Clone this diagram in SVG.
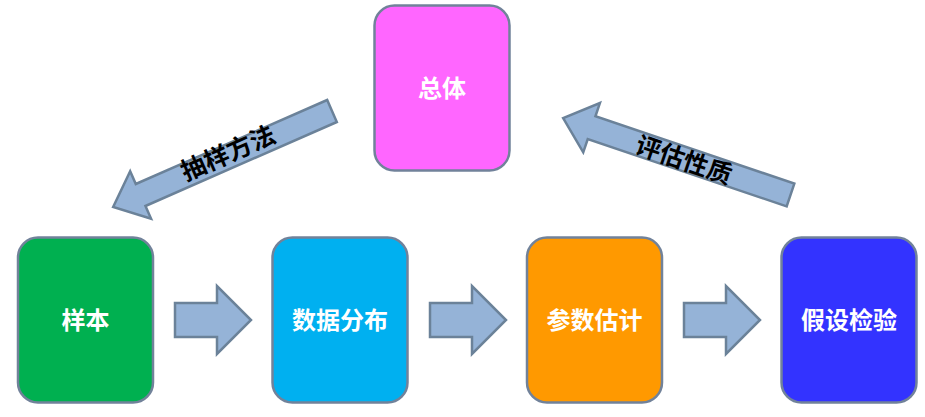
<svg xmlns="http://www.w3.org/2000/svg" width="925" height="417" viewBox="0 0 925 417">
<style>
.box{stroke:#71829A;stroke-width:2.5}
.lbl{font-family:"Liberation Sans","Noto Sans CJK SC",sans-serif;font-size:24px;font-weight:bold;fill:#FFFFFF;text-anchor:middle;dominant-baseline:central}
.arr{fill:#95B3D7;stroke:#6B8299;stroke-width:2.5;stroke-linejoin:miter}
.alb{font-family:"Liberation Sans","Noto Sans CJK SC",sans-serif;font-size:25px;font-weight:bold;fill:#000000;text-anchor:middle;dominant-baseline:central}
</style>
<rect width="925" height="417" fill="#FFFFFF"/>
<g id="zongti"><rect class="box" x="374.5" y="5.5" width="135" height="165" rx="20" fill="#FF66FF"/><text class="lbl" x="442" y="88">总体</text></g>
<g id="yangben"><rect class="box" x="18" y="237.5" width="135" height="165" rx="20" fill="#00B050"/><text class="lbl" x="85.5" y="320">样本</text></g>
<g id="shujufenbu"><rect class="box" x="272.5" y="237.5" width="135" height="165" rx="20" fill="#00B0F0"/><text class="lbl" x="340" y="320">数据分布</text></g>
<g id="canshuguji"><rect class="box" x="527" y="237.5" width="135" height="165" rx="20" fill="#FF9900"/><text class="lbl" x="594.5" y="320">参数估计</text></g>
<g id="jiashejianyan"><rect class="box" x="781.5" y="237.5" width="135" height="165" rx="20" fill="#3333FF"/><text class="lbl" x="849" y="320">假设检验</text></g>
<g id="connectors">
<path class="arr" d="M175,303 H217 V286 L251,320 L217,354 V337 H175 Z"/>
<path class="arr" d="M430,303 H472 V286 L506,320 L472,354 V337 H430 Z"/>
<path class="arr" d="M684,303 H726 V286 L760,320 L726,354 V337 H684 Z"/>
<g transform="translate(332,111) rotate(156.3)">
<path class="arr" d="M0,-12 H209 V-26 L239,0 L209,26 V12 H0 Z"/>
</g>
<text class="alb" transform="translate(228,153) rotate(-23.7)">抽样方法</text>
<g transform="translate(790.5,195) rotate(198.7)">
<path class="arr" d="M0,-12 H210 V-26 L240,0 L210,26 V12 H0 Z"/>
</g>
<text class="alb" transform="translate(684,160) rotate(18.7)">评估性质</text>
</g>
</svg>
